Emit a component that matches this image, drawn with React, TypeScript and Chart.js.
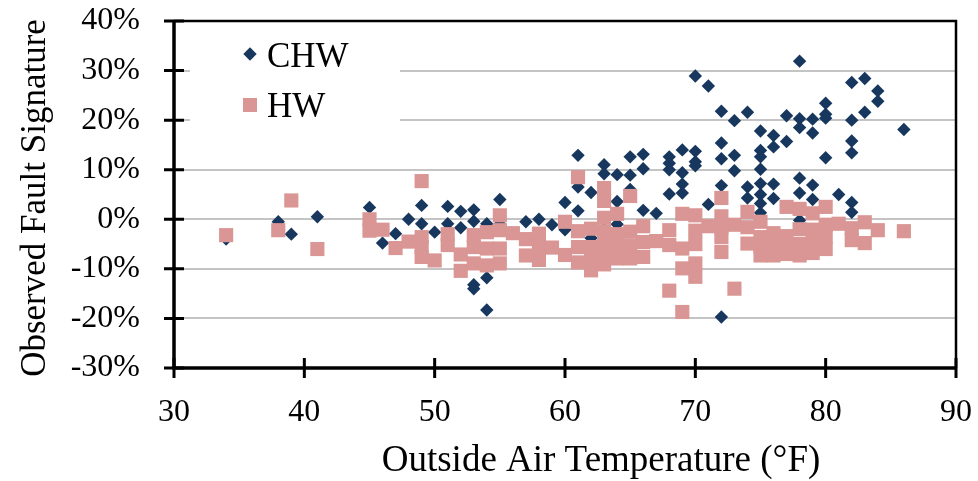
import React, { useEffect, useRef } from "react";
import { Chart, registerables } from "chart.js";

Chart.register(...registerables);

// ---- Data ----
const seriesLabels = ["CHW", "HW"];
const xAxisTitle = "Outside Air Temperature (°F)";
const yAxisTitle = "Observed Fault Signature";
const xTickValues = [30, 40, 50, 60, 70, 80, 90];
const yTickValues = [-30, -20, -10, 0, 10, 20, 30, 40];

const chwTemp = [
  34, 38, 39, 41, 45, 46, 47, 48, 49, 49, 50, 51, 51, 52, 52, 53, 53, 53, 53, 54, 54, 54, 54, 55, 55, 57, 58, 59,
  60, 60, 61, 61, 61, 62, 62, 63, 63, 63, 64, 64, 64, 65, 65, 65, 66, 66, 66, 67, 68, 68, 68, 68, 69, 69, 69, 69,
  70, 70, 70, 70, 71, 71, 72, 72, 72, 72, 72, 73, 73, 73, 74, 74, 74, 75, 75, 75, 75, 75, 75, 75, 75, 76, 76, 76,
  76, 77, 77, 78, 78, 78, 78, 78, 78, 79, 79, 79, 79, 80, 80, 80, 80, 81, 82, 82, 82, 82, 82, 82, 83, 83, 84, 84, 86,
];
const chwSignature = [
  -4, -0.5, -3, 0.5, 2.4, -4.8, -2.9, 0, 2.8, -0.9, -2.6, 2.6, -0.9, 1.6, -1.7, 1.9, -0.4, -13.2, -14, -0.9, -2.5, -11.8, -18.3, 4, -1, -0.5, 0, -1.1,
  3.4, -2.1, 12.9, 6.5, 1.7, 5.4, -3.8, 11, 9.2, -2, 9, 3.6, -1, 12.6, 8.9, 6, 13.1, 10.2, 1.8, 1.2, 12.6, 11.3, 10, 5.1, 14, 9.4, 7.1, 5.3,
  28.9, 13.7, 11.6, 10.8, 26.9, 3, 21.8, 15.4, 12.2, 6.8, -19.7, 19.9, 12.9, 9.8, 21.6, 6.5, 4.3, 17.8, 13.9, 12.6, 10.1, 7.2, 5, 3.2, 1.3, 16.9, 14.6, 7.1,
  4.2, 20.9, 15.7, 31.9, 20.3, 18.5, 8.3, 5.3, -0.2, 20.2, 17.4, 6.9, 4, 23.4, 21.2, 20.4, 12.4, 5, 27.6, 20, 15.8, 13.4, 3.4, 1.4, 28.4, 21.6, 25.9, 23.8, 18.1,
];

const hwTemp = [
  34, 38, 39, 41, 45, 45, 46, 47, 48, 49, 49, 49, 49, 50, 51, 51, 52, 52, 53, 53, 53, 54, 54, 54, 55, 55, 55, 55, 56, 57, 57,
  58, 58, 58, 59, 60, 60, 61, 61, 61, 61, 62, 62, 62, 62, 63, 63, 63, 63, 63, 63, 63, 64, 64, 64, 64, 65, 65, 65, 65,
  66, 66, 66, 67, 68, 68, 68, 69, 69, 69, 69, 70, 70, 70, 70, 70, 71, 72, 72, 72, 72, 72, 73, 73, 74, 74, 74,
  75, 75, 75, 75, 76, 76, 76, 77, 77, 77, 77, 78, 78, 78, 78, 79, 79, 79, 79, 80, 80, 80, 80, 81, 82, 82, 83, 83, 84, 86,
];
const hwSignature = [
  -3.2, -2.2, 3.8, -6, 0, -2.3, -2.1, -5.8, -4.5, 7.7, -3.6, -5.6, -7.6, -8.3, -3, -5.2, -7.1, -10.4, -3.2, -5.6, -8.9, -2.6, -5.9, -9.3, 0.8, -2.2, -5.9, -8.9, -2.8, -4, -7.3,
  -2.9, -5.5, -8.2, -5.7, -0.5, -7.2, 8.5, -2.4, -5.6, -8.7, -1.9, -5.6, -8.2, -10.3, 6.3, 3.7, 0.3, -2.5, -4.5, -6.8, -9.1, 1.1, -3, -5.5, -7.9, 4.7, -2.5, -5.3, -7.9,
  -1.4, -4.6, -7.6, -4.4, -2.2, -5.2, -14.4, 1.1, -5.9, -9.9, -18.7, 0.8, -2.3, -5, -8.9, -11.6, -1.4, 4.3, 0.6, -1.6, -3.6, -6.6, -1.1, -14, 1.5, -1.6, -4.9,
  -0.5, -3.6, -5.5, -7.3, -2.8, -5.2, -7.3, 2.5, -3.4, -5.6, -7, 2.1, -2, -5, -7.3, 1.2, -2.1, -4.5, -6.8, 2.5, -1.1, -3.5, -6, -0.9, -1.8, -4.2, -0.6, -4.8, -2.2, -2.4,
];

const CHW_COLOR = "#17375E";
const HW_COLOR = "#D99694";
const FONT_FAMILY = '"Liberation Serif", "Times New Roman", serif';

const toPoints = (xs: number[], ys: number[]) => xs.map((x, i) => ({ x, y: ys[i] }));

const zeroPadding = (s: any) => {
  s.paddingTop = 0;
  s.paddingBottom = 0;
  s.paddingLeft = 0;
  s.paddingRight = 0;
};

const framePlugin = {
  id: "framePlugin",
  beforeDatasetsDraw(chart: any) {
    const ctx = chart.ctx as CanvasRenderingContext2D;
    const area = chart.chartArea;
    // legend box (inside plot area, white background)
    const lx = area.left + 16;
    const ly = area.top + 12;
    ctx.save();
    ctx.fillStyle = "#ffffff";
    ctx.fillRect(lx, ly, 210, 100);
    // CHW marker (diamond)
    const mx = area.left + 76;
    const r = 6.7;
    const my = area.top + 33;
    ctx.fillStyle = CHW_COLOR;
    ctx.beginPath();
    ctx.moveTo(mx - r, my);
    ctx.lineTo(mx, my - r);
    ctx.lineTo(mx + r, my);
    ctx.lineTo(mx, my + r);
    ctx.closePath();
    ctx.fill();
    // HW marker (square)
    const my2 = area.top + 84;
    ctx.fillStyle = HW_COLOR;
    ctx.fillRect(mx - 7, my2 - 7, 14, 14);
    ctx.fillStyle = "#000";
    ctx.font = `35px ${FONT_FAMILY}`;
    ctx.textAlign = "left";
    ctx.textBaseline = "alphabetic";
    ctx.fillText(seriesLabels[0], area.left + 93, area.top + 46);
    ctx.fillText(seriesLabels[1], area.left + 93, area.top + 96);
    ctx.restore();
  },
  afterDraw(chart: any) {
    const ctx = chart.ctx as CanvasRenderingContext2D;
    const area = chart.chartArea;
    const xs = chart.scales.x;
    const ys = chart.scales.y;
    ctx.save();
    ctx.strokeStyle = "#000";
    // top and right frame
    ctx.lineWidth = 2.5;
    ctx.beginPath();
    ctx.moveTo(area.left, area.top);
    ctx.lineTo(area.right, area.top);
    ctx.lineTo(area.right, area.bottom);
    ctx.stroke();
    // axes
    ctx.lineWidth = 3.5;
    ctx.beginPath();
    ctx.moveTo(area.left, area.top - 1);
    ctx.lineTo(area.left, area.bottom);
    ctx.lineTo(area.right + 1, area.bottom);
    ctx.stroke();
    // cross ticks
    ctx.lineWidth = 3;
    ctx.beginPath();
    xTickValues.forEach((v) => {
      const px = xs.getPixelForValue(v);
      ctx.moveTo(px, area.bottom - 10);
      ctx.lineTo(px, area.bottom + 10);
    });
    yTickValues.forEach((v) => {
      const py = ys.getPixelForValue(v);
      ctx.moveTo(area.left - 10, py);
      ctx.lineTo(area.left + 10, py);
    });
    ctx.stroke();
    // axis titles
    ctx.fillStyle = "#000";
    ctx.font = `37px ${FONT_FAMILY}`;
    ctx.textAlign = "center";
    ctx.textBaseline = "alphabetic";
    ctx.fillText(xAxisTitle, 601, 471);
    ctx.font = `35px ${FONT_FAMILY}`;
    ctx.translate(45, 198);
    ctx.rotate(-Math.PI / 2);
    ctx.fillText(yAxisTitle, 0, 0);
    ctx.restore();
  },
};

export default function App() {
  const canvasRef = useRef<HTMLCanvasElement | null>(null);

  useEffect(() => {
    if (!canvasRef.current) return;
    const tickFont = { family: FONT_FAMILY, size: 32 };
    const chart = new Chart(canvasRef.current, {
      type: "scatter",
      data: {
        datasets: [
          {
            label: seriesLabels[0],
            data: toPoints(chwTemp, chwSignature),
            backgroundColor: CHW_COLOR,
            borderWidth: 0,
            pointStyle: "rectRot",
            pointRadius: 6.7,
            order: 1,
          },
          {
            label: seriesLabels[1],
            data: toPoints(hwTemp, hwSignature),
            backgroundColor: HW_COLOR,
            borderWidth: 0,
            pointStyle: "rect",
            pointRadius: 10,
            order: 0,
          },
        ],
      },
      options: {
        animation: false,
        responsive: false,
        devicePixelRatio: 1,
        events: [],
        layout: { padding: { left: 0, top: 21, right: 22, bottom: 0 } },
        plugins: {
          legend: { display: false },
          tooltip: { enabled: false },
        },
        scales: {
          x: {
            type: "linear",
            min: 30,
            max: 90,
            afterFit: (s: any) => {
              s.height = 113;
              zeroPadding(s);
            },
            ticks: {
              stepSize: 10,
              font: tickFont,
              color: "#000",
              padding: 25,
              maxRotation: 0,
            },
            grid: { display: false, drawTicks: false },
            border: { display: false },
          },
          y: {
            type: "linear",
            min: -30,
            max: 40,
            afterFit: (s: any) => {
              s.width = 174;
              zeroPadding(s);
            },
            ticks: {
              stepSize: 10,
              font: tickFont,
              color: "#000",
              padding: 34,
              callback: (v: any) => `${v}%`,
            },
            grid: { color: "#C4C4C4", lineWidth: 2, drawTicks: false },
            border: { display: false },
          },
        },
      },
      plugins: [framePlugin],
    });
    return () => chart.destroy();
  }, []);

  return (
    <div style={{ position: "fixed", left: 0, top: 0, width: 978, height: 481, background: "#fff" }}>
      <canvas ref={canvasRef} width={978} height={481} />
    </div>
  );
}
